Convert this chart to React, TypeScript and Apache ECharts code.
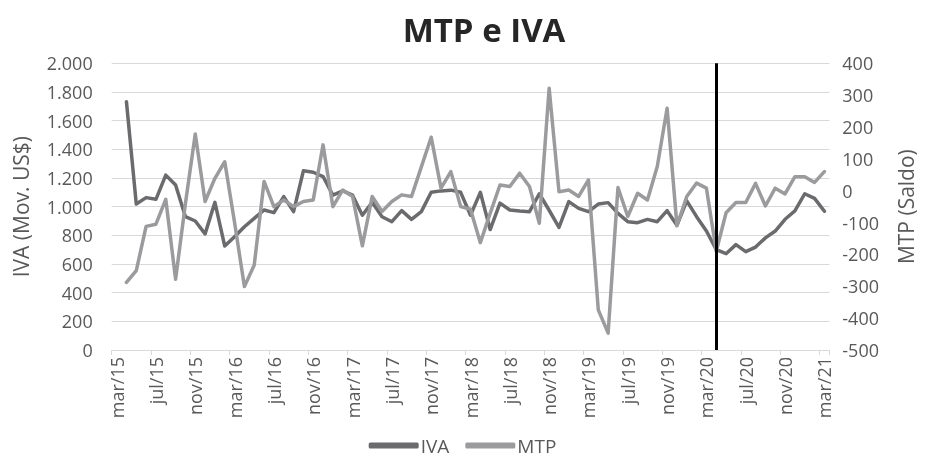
import React, { useEffect, useRef } from 'react';
import * as echarts from 'echarts';

const categories = [
  'mar/15','abr/15','mai/15','jun/15','jul/15','ago/15','set/15','out/15','nov/15','dez/15',
  'jan/16','fev/16','mar/16','abr/16','mai/16','jun/16','jul/16','ago/16','set/16','out/16','nov/16','dez/16',
  'jan/17','fev/17','mar/17','abr/17','mai/17','jun/17','jul/17','ago/17','set/17','out/17','nov/17','dez/17',
  'jan/18','fev/18','mar/18','abr/18','mai/18','jun/18','jul/18','ago/18','set/18','out/18','nov/18','dez/18',
  'jan/19','fev/19','mar/19','abr/19','mai/19','jun/19','jul/19','ago/19','set/19','out/19','nov/19','dez/19',
  'jan/20','fev/20','mar/20','abr/20','mai/20','jun/20','jul/20','ago/20','set/20','out/20','nov/20','dez/20',
  'jan/21','fev/21','mar/21',
];

const ivaValues: (number | null)[] = [
  null, 1732, 1018, 1063, 1051, 1220, 1151, 930, 900, 810,
  1030, 725, 790, 860, 918, 977, 958, 1070, 965, 1250, 1240, 1210,
  1080, 1110, 1080, 940, 1030, 930, 895, 972, 911, 965, 1100, 1110,
  1115, 1100, 940, 1100, 840, 1025, 977, 970, 965, 1090, 975, 855,
  1035, 988, 965, 1018, 1028, 953, 895, 888, 911, 895, 972, 870,
  1040, 930, 830, 700, 672, 735, 686, 718, 782, 830, 912, 970,
  1090, 1058, 968,
];

const mtpValues: (number | null)[] = [
  null, -288, -251, -112, -105, -27, -278, -40, 178, -34,
  39, 91, -100, -301, -233, 29, -50, -29, -50, -34, -29, 144,
  -50, 2, -18, -173, -18, -65, -34, -13, -18, 75, 168, 8,
  60, -50, -58, -163, -71, 18, 13, 55, 13, -102, 322, -3,
  2, -18, 34, -374, -447, 10, -81, -8, -29, 76, 259, -110,
  -18, 24, 8, -190, -69, -37, -37, 23, -48, 8, -10, 44,
  44, 26, 60,
];

const markerCategory = 'abr/20';

const FONT = 'Open Sans';
const TEXT = '#595959';
const GRID = '#d9d9d9';

function fmtThousands(v: number): string {
  const s = Math.abs(v).toString().replace(/\B(?=(\d{3})+(?!\d))/g, '.');
  return (v < 0 ? '-' : '') + s;
}

export default function App() {
  const ref = useRef<HTMLDivElement>(null);
  useEffect(() => {
    const chart = echarts.init(ref.current!, null, { renderer: 'svg' });
    chart.setOption({
      animation: false,
      textStyle: { fontFamily: FONT },
      title: {
        text: 'MTP e IVA',
        left: 479,
        textAlign: 'center',
        top: 8,
        textStyle: { fontFamily: FONT, fontSize: 33, fontWeight: 'bold', color: '#262626' },
      },
      legend: {
        data: ['IVA', 'MTP'],
        left: 'center',
        top: 435,
        padding: 0,
        icon: 'roundRect',
        itemWidth: 50,
        itemHeight: 6,
        itemGap: 16,
        textStyle: { fontFamily: FONT, fontSize: 19, color: TEXT, padding: [0, 0, 0, -3], lineHeight: 21 },
      },
      grid: { left: 111.7, right: 95.7, top: 63.3, bottom: 107, containLabel: false },
      xAxis: {
        type: 'category',
        data: categories,
        boundaryGap: true,
        axisLine: { show: true, lineStyle: { color: GRID, width: 1 } },
        axisTick: { show: true, interval: 3, length: 5, lineStyle: { color: GRID } },
        axisLabel: { interval: 3, rotate: 90, fontSize: 18, color: TEXT, margin: 7, fontFamily: FONT },
        splitLine: { show: false },
      },
      yAxis: [
        {
          type: 'value',
          position: 'left',
          min: 0,
          max: 2000,
          interval: 200,
          name: 'IVA (Mov. US$)',
          nameLocation: 'middle',
          nameRotate: 90,
          nameGap: 80,
          nameTextStyle: { fontSize: 21, color: TEXT, fontFamily: FONT },
          axisLine: { show: false },
          axisTick: { show: false },
          axisLabel: { fontSize: 18, color: TEXT, margin: 19, fontFamily: FONT, formatter: (v: number) => fmtThousands(v) },
          splitLine: { show: true, lineStyle: { color: GRID, width: 1 } },
        },
        {
          type: 'value',
          position: 'right',
          min: -500,
          max: 400,
          interval: 100,
          name: 'MTP (Saldo)',
          nameLocation: 'middle',
          nameRotate: 90,
          nameGap: 66,
          nameTextStyle: { fontSize: 21, color: TEXT, fontFamily: FONT },
          axisLine: { show: false },
          axisTick: { show: false },
          axisLabel: { fontSize: 18, color: TEXT, margin: 13, fontFamily: FONT },
          splitLine: { show: false },
        },
      ],
      series: [
        {
          name: 'IVA',
          type: 'line',
          yAxisIndex: 0,
          data: ivaValues,
          showSymbol: false,
          symbol: 'none',
          connectNulls: false,
          itemStyle: { color: '#6b6b6e' },
          lineStyle: { color: '#6b6b6e', width: 3.5, cap: 'round', join: 'round' },
          markLine: {
            silent: true,
            symbol: 'none',
            label: { show: false },
            lineStyle: { color: '#000000', width: 3, type: 'solid' },
            data: [{ xAxis: markerCategory }],
          },
        },
        {
          name: 'MTP',
          type: 'line',
          yAxisIndex: 1,
          data: mtpValues,
          showSymbol: false,
          symbol: 'none',
          itemStyle: { color: '#9b9b9e' },
          lineStyle: { color: '#9b9b9e', width: 3.5, cap: 'round', join: 'round' },
        },
      ],
    });
    return () => chart.dispose();
  }, []);
  return <div ref={ref} style={{ position: 'fixed', left: 0, top: 0, width: 925, height: 457 }} />;
}
